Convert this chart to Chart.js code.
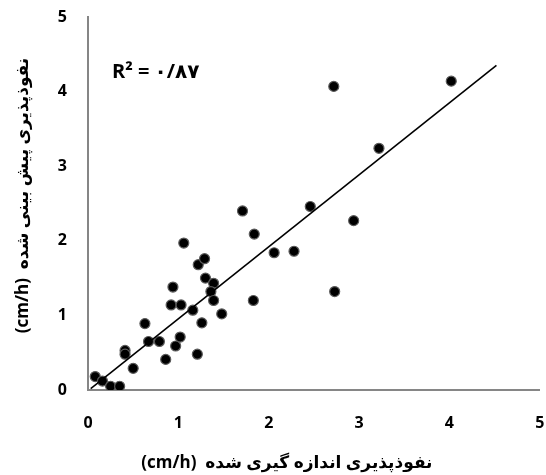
<!DOCTYPE html>
<html>
<head>
<meta charset="utf-8">
<style>
  html, body { margin: 0; padding: 0; background: #ffffff; }
  #wrap { width: 546px; height: 475px; }
</style>
<script src="https://cdn.jsdelivr.net/npm/chart.js@4.4.1/dist/chart.umd.min.js"></script>
</head>
<body>
<div id="wrap"><canvas id="c" width="546" height="475"></canvas></div>
<script>
// measured permeability (cm/h)
const measured = [0.08, 0.16, 0.25, 0.35, 0.41, 0.41, 0.50, 0.63, 0.67, 0.79, 0.86, 0.97, 1.02,
  0.94, 0.92, 1.03, 1.16, 1.06, 1.21, 1.26, 1.22, 1.29, 1.30, 1.39, 1.36, 1.39, 1.48,
  1.71, 1.84, 1.83, 2.06, 2.28, 2.46, 2.94, 2.73, 2.72, 3.22, 4.02];
// predicted permeability (cm/h)
const predicted = [0.18, 0.12, 0.05, 0.05, 0.53, 0.48, 0.29, 0.89, 0.65, 0.65, 0.41, 0.59, 0.71,
  1.38, 1.14, 1.14, 1.07, 1.97, 0.48, 0.90, 1.68, 1.76, 1.50, 1.43, 1.32, 1.20, 1.02,
  2.40, 2.09, 1.20, 1.84, 1.86, 2.46, 2.27, 1.32, 4.07, 3.24, 4.14];
// regression line end points
const trendX = [0.03, 4.52];
const trendY = [0.02, 4.35];
const tickValues = [0, 1, 2, 3, 4, 5];
const xTitle = '(cm/h)  نفوذپذیری اندازه گیری شده';
const yTitle = '(cm/h)  نفوذپذیری پیش بینی شده';
const r2Label = 'R² = ۰/۸۷';

const FONT = '"Open Sans", "DejaVu Sans", sans-serif';

const titlePlugin = {
  id: 'titles',
  afterDraw(chart) {
    const ctx = chart.ctx;
    const a = chart.chartArea;
    const xs = chart.scales.x, ys = chart.scales.y;
    ctx.save();
    ctx.fillStyle = '#000';
    ctx.direction = 'ltr';
    // x title
    ctx.font = 'bold 17px ' + FONT;
    ctx.textAlign = 'center';
    ctx.textBaseline = 'middle';
    ctx.fillText(xTitle, (a.left + a.right) / 2 - 27, a.bottom + 73);
    // y title
    ctx.save();
    ctx.translate(23, (a.top + a.bottom) / 2 - 8);
    ctx.rotate(-Math.PI / 2);
    ctx.fillText(yTitle, 0, 0);
    ctx.restore();
    // R2 label
    ctx.font = 'bold 20px ' + FONT;
    ctx.textAlign = 'left';
    ctx.fillText(r2Label, xs.getPixelForValue(0.265), ys.getPixelForValue(4.26));
    ctx.restore();
  }
};

new Chart(document.getElementById('c'), {
  type: 'scatter',
  data: {
    datasets: [
      {
        type: 'line',
        data: trendX.map((x, i) => ({ x: x, y: trendY[i] })),
        borderColor: '#000',
        borderWidth: 1.6,
        pointRadius: 0,
        fill: false,
        order: 0
      },
      {
        data: measured.map((x, i) => ({ x: x, y: predicted[i] })),
        backgroundColor: '#000',
        borderColor: '#5a5a5a',
        borderWidth: 1.2,
        pointRadius: 5,
        order: 1
      }
    ]
  },
  options: {
    responsive: false,
    animation: false,
    devicePixelRatio: 1,
    layout: { padding: { top: 17, right: 5, left: 0, bottom: 0 } },
    plugins: { legend: { display: false }, tooltip: { enabled: false } },
    scales: {
      x: {
        type: 'linear',
        min: 0, max: 5,
        afterBuildTicks: s => { s.ticks = tickValues.map(v => ({ value: v })); },
        afterFit: s => { s.height = 85; s.paddingLeft = 0; s.paddingRight = 0; },
        grid: { display: false, drawTicks: false },
        border: { color: '#868686', width: 2 },
        ticks: { color: '#000', padding: 24, maxRotation: 0, font: { family: FONT, size: 16, weight: 'bold' } }
      },
      y: {
        type: 'linear',
        min: 0, max: 5,
        afterBuildTicks: s => { s.ticks = tickValues.map(v => ({ value: v })); },
        afterFit: s => { s.width = 88; s.paddingTop = 0; s.paddingBottom = 0; },
        grid: { display: false, drawTicks: false },
        border: { color: '#868686', width: 2 },
        ticks: { color: '#000', padding: 21, font: { family: FONT, size: 16, weight: 'bold' } }
      }
    }
  },
  plugins: [titlePlugin]
});
</script>
</body>
</html>
